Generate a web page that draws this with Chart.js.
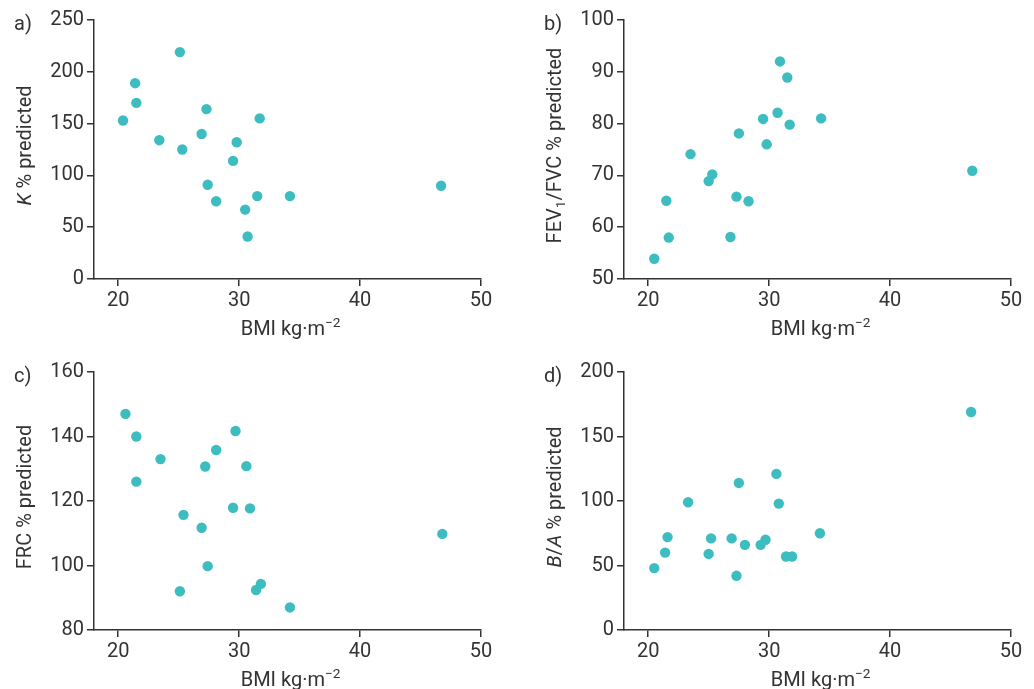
<!DOCTYPE html>
<html>
<head>
<meta charset="utf-8">
<script src="https://cdn.jsdelivr.net/npm/chart.js@4.4.1/dist/chart.umd.min.js"></script>
<style>
  html, body { margin: 0; padding: 0; background: #fff; }
  #wrap { position: relative; width: 1034px; height: 689px; }
  .panel { position: absolute; width: 517px; height: 345px; }
</style>
</head>
<body>
<div id="wrap">
  <div class="panel" style="left:0;top:0"><canvas id="chart-a"></canvas></div>
  <div class="panel" style="left:517px;top:0"><canvas id="chart-b"></canvas></div>
  <div class="panel" style="left:0;top:345px"><canvas id="chart-c"></canvas></div>
  <div class="panel" style="left:517px;top:345px"><canvas id="chart-d"></canvas></div>
</div>
<script>
// BMI ticks shared by all four panels
var bmiTicks = [20, 30, 40, 50];

// a) K % predicted
var bmiA = [25.1, 21.4, 21.5, 20.4, 23.4, 25.3, 27.3, 26.9, 29.8, 31.7, 29.5, 27.4, 28.1, 30.5, 31.5, 34.2, 30.7, 46.7];
var kPred = [219, 189, 170, 153, 134, 125, 164, 140, 132, 155, 114, 91, 75, 67, 80, 80, 41, 90];
var kTicks = [0, 50, 100, 150, 200, 250];

// b) FEV1/FVC % predicted
var bmiB = [30.9, 31.5, 30.7, 29.5, 34.3, 31.7, 27.5, 29.8, 23.5, 25.3, 25.0, 27.3, 28.3, 21.5, 21.7, 26.8, 20.5, 46.8];
var fevFvc = [92.0, 88.9, 82.1, 80.9, 81.0, 79.8, 78.1, 76.0, 74.1, 70.2, 68.9, 65.9, 65.0, 65.1, 58.0, 58.1, 53.9, 70.9];
var fevTicks = [50, 60, 70, 80, 90, 100];

// c) FRC % predicted
var bmiC = [20.6, 21.5, 23.5, 21.5, 29.7, 28.1, 27.2, 30.6, 29.5, 30.9, 25.4, 26.9, 27.4, 25.1, 31.4, 31.8, 34.2, 46.8];
var frc = [147, 140, 133, 126, 141.7, 135.8, 130.7, 130.8, 117.9, 117.7, 115.7, 111.7, 99.8, 92, 92.4, 94.3, 87, 109.8];
var frcTicks = [80, 100, 120, 140, 160];

// d) B/A % predicted
var bmiD = [46.7, 30.6, 27.5, 23.3, 30.8, 34.2, 21.6, 25.2, 26.9, 29.7, 29.3, 28.0, 21.4, 25.0, 31.4, 31.9, 20.5, 27.3];
var ba = [169, 121, 114, 99, 98, 75, 72, 71, 71, 70, 66, 66, 60, 59, 57, 57, 48, 42];
var baTicks = [0, 50, 100, 150, 200];

var POINT = '#3dbdc0';
var INK = '#333333';
var FONT = 'Roboto';
var SIZE = 20;

// draws a title made of styled runs (italic / sub / sup)
function drawRuns(ctx, runs, size) {
    var total = 0;
    runs.forEach(function (r) {
        var s = (r.sub || r.sup) ? size * 0.68 : size;
        ctx.font = (r.i ? 'italic ' : '') + s + 'px ' + FONT;
        r.w = ctx.measureText(r.t).width;
        total += r.w;
    });
    var x = -total / 2;
    runs.forEach(function (r) {
        var s = (r.sub || r.sup) ? size * 0.68 : size;
        ctx.font = (r.i ? 'italic ' : '') + s + 'px ' + FONT;
        var dy = r.sub ? size * 0.28 : (r.sup ? -size * 0.38 : 0);
        ctx.fillText(r.t, x, dy);
        x += r.w;
    });
}

var titlePlugin = {
    id: 'richTitles',
    afterDraw: function (chart, args, o) {
        var ctx = chart.ctx, a = chart.chartArea;
        ctx.save();
        ctx.fillStyle = INK;
        ctx.textAlign = 'left';
        ctx.textBaseline = 'alphabetic';
        // panel letter
        ctx.font = SIZE + 'px ' + FONT;
        ctx.fillText(o.letter, a.left - 80, a.top + 10);
        // x title
        ctx.save();
        ctx.translate((a.left + a.right) / 2 + 3, a.bottom + 56);
        drawRuns(ctx, o.xTitle, SIZE);
        ctx.restore();
        // y title
        ctx.save();
        ctx.translate(a.left - 68, (a.top + a.bottom) / 2 - 4);
        ctx.rotate(-Math.PI / 2);
        ctx.textBaseline = 'middle';
        drawRuns(ctx, o.yTitle, SIZE);
        ctx.restore();
        ctx.restore();
    }
};

function zeroPad(s) {
    s.paddingTop = 0; s.paddingBottom = 0; s.paddingLeft = 0; s.paddingRight = 0;
}

function axis(ticks, extra) {
    var ax = {
        type: 'linear',
        min: ticks[0],
        max: ticks[ticks.length - 1],
        afterBuildTicks: function (s) { s.ticks = ticks.map(function (v) { return { value: v }; }); },
        grid: { drawOnChartArea: false, drawTicks: true, tickLength: 7, color: INK, lineWidth: 1.5 },
        border: { display: true, color: INK, width: 1.5 },
        ticks: { color: INK, font: { family: FONT, size: SIZE }, padding: 3 }
    };
    return Object.assign(ax, extra);
}

function panel(id, xs, ys, yTicks, o) {
    var ctx = document.getElementById(id);
    if (!ctx) return;
    new Chart(ctx, {
        type: 'scatter',
        data: {
            datasets: [{
                data: xs.map(function (v, i) { return { x: v, y: ys[i] }; }),
                backgroundColor: POINT,
                borderWidth: 0,
                pointRadius: 5.2,
                pointHoverRadius: 5.2
            }]
        },
        options: {
            responsive: true,
            maintainAspectRatio: false,
            animation: false,
            layout: { padding: { left: 0, top: o.top, right: o.right, bottom: 0 } },
            plugins: {
                legend: { display: false },
                tooltip: { enabled: false },
                richTitles: { letter: o.letter, xTitle: o.xTitle, yTitle: o.yTitle }
            },
            scales: {
                x: axis(bmiTicks, {
                    min: 18,
                    afterFit: function (s) { s.height = o.xh; zeroPad(s); }
                }),
                y: axis(yTicks, {
                    afterFit: function (s) { s.width = o.yw; zeroPad(s); }
                })
            }
        },
        plugins: [titlePlugin]
    });
}

var bmiTitle = [{ t: 'BMI kg\u00b7m' }, { t: '\u22122', sup: true }];

panel('chart-a', bmiA, kPred, kTicks, {
    letter: 'a)', top: 20, right: 36, xh: 66, yw: 94,
    xTitle: bmiTitle,
    yTitle: [{ t: 'K', i: true }, { t: ' % predicted' }]
});
panel('chart-b', bmiB, fevFvc, fevTicks, {
    letter: 'b)', top: 20, right: 23, xh: 66, yw: 107,
    xTitle: bmiTitle,
    yTitle: [{ t: 'FEV' }, { t: '1', sub: true }, { t: '/FVC % predicted' }]
});
panel('chart-c', bmiC, frc, frcTicks, {
    letter: 'c)', top: 27, right: 36, xh: 60, yw: 94,
    xTitle: bmiTitle,
    yTitle: [{ t: 'FRC % predicted' }]
});
panel('chart-d', bmiD, ba, baTicks, {
    letter: 'd)', top: 27, right: 23, xh: 60, yw: 107,
    xTitle: bmiTitle,
    yTitle: [{ t: 'B', i: true }, { t: '/' }, { t: 'A', i: true }, { t: ' % predicted' }]
});
</script>
</body>
</html>
